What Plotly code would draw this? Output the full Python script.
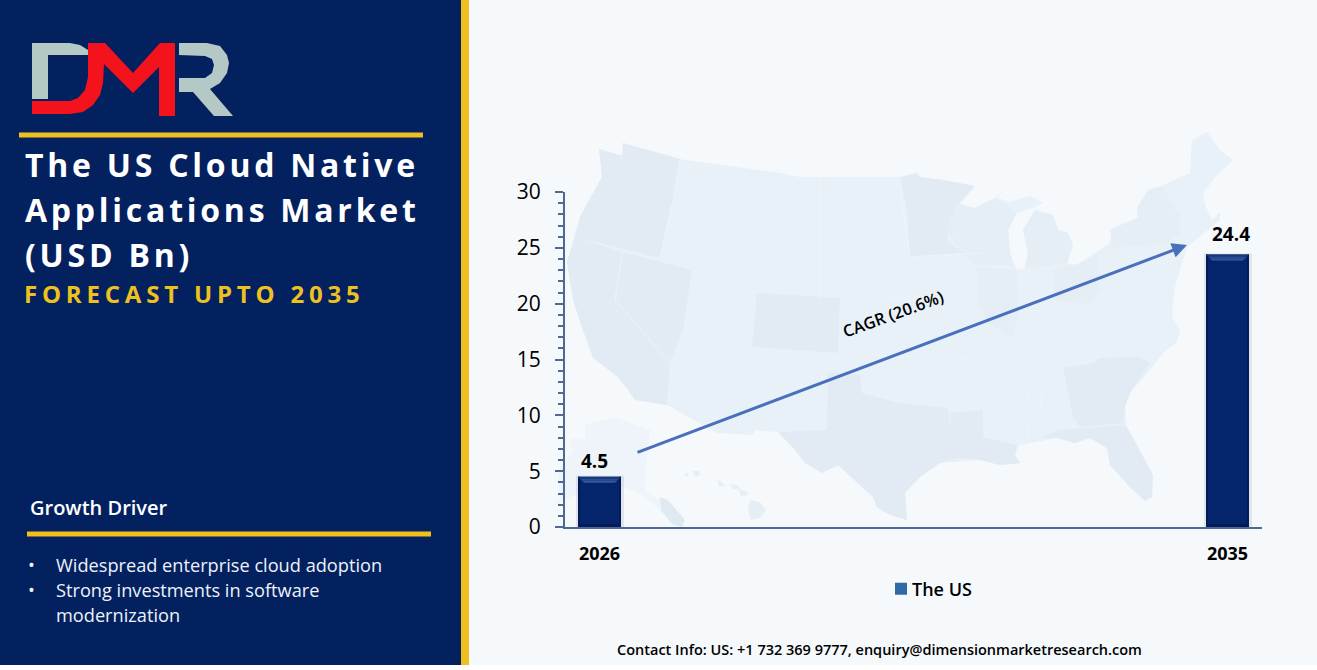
import plotly.graph_objects as go

# Chart data
YEARS = ["2026", "2035"]
MARKET_SIZE = [4.5, 24.4]
SERIES_NAME = "The US"
CAGR_LABEL = "CAGR (20.6%)"
Y_TICKS = [0, 5, 10, 15, 20, 25, 30]

# Side panel copy
TITLE_LINES = ["The US Cloud Native", "Applications Market", "(USD Bn)"]
SUBTITLE = "FORECAST UPTO 2035"
DRIVER_HEADING = "Growth Driver"
DRIVERS = [["Widespread enterprise cloud adoption"],
           ["Strong investments in software", "modernization"]]
CONTACT = "Contact Info: US: +1 732 369 9777, enquiry@dimensionmarketresearch.com"

# Canvas and palette
W, H = 1317, 670
PLOT_L, PLOT_R, PLOT_T, PLOT_B = 565, 1262, 192, 527
NAVY = "#03215f"
BAR_FILL = "#04246c"
GOLD = "#f2c01e"
AXIS = "#4d6a96"
FONT = "Open Sans"
MAP_BASE = "#e9f1f8"
MAP_WEST = "#e2ebf3"
MAP_EAST = "#e5edf5"
MAP_LIGHT = "#eef4fa"

# Traced outlines of the backdrop map, in canvas pixels
LOWER_48 = [(599,149),(610,152),(622,156),(621,167),(623,153),(623,143),(680,159),(780,173),(800,177),(900,177),
            (917,173),(920,177),(943,180),(975,186),(960,203),(975,208),(995,198),(1003,191),(997,198),(1010,202),
            (1030,196),(1043,203),(1033,208),(1017,213),(1008,230),(1010,253),(1017,270),(1025,268),(1028,253),
            (1023,230),(1035,210),(1053,215),(1058,230),(1068,233),(1073,245),(1067,263),(1077,265),(1110,243),
            (1112,228),(1138,218),(1137,208),(1148,190),(1163,185),(1190,173),(1192,140),(1207,132),(1220,150),
            (1233,160),(1217,175),(1203,193),(1205,205),(1212,220),(1220,212),(1220,220),(1202,235),(1187,247),
            (1180,270),(1175,287),(1173,302),(1172,317),(1180,330),(1177,342),(1163,353),(1150,370),(1130,393),
            (1125,407),(1127,427),(1153,475),(1152,497),(1145,501),(1130,487),(1110,465),(1107,448),(1090,438),
            (1075,443),(1057,438),(1020,445),(1015,455),(1020,463),(1000,465),(980,460),(940,463),(920,477),
            (905,493),(907,520),(890,515),(877,507),(873,497),(838,465),(822,473),(805,463),(795,450),(778,432),
            (755,430),(753,435),(717,433),(667,405),(635,400),(628,390),(618,377),(593,358),(582,327),(573,300),
            (567,262),(575,233),(580,217),(593,193),(602,177)]
WEST_REGIONS = [
    [(599,149),(622,156),(623,143),(680,159),(673,200),(610,192),(593,193),(602,177)],
    [(593,193),(610,192),(673,200),(665,235),(660,258),(575,237),(580,217)],
    [(623,252),(692,270),(683,330),(670,363),(615,300)],
    [(575,237),(623,252),(615,300),(670,363),(667,405),(635,400),(628,390),(618,377),(593,358),(582,327),(573,300),(567,262)],
    [(757,293),(840,298),(838,353),(752,347)],
    [(828,372),(860,375),(862,393),(900,403),(948,408),(951,437),(957,458),(940,463),(920,477),(905,493),(907,520),
     (890,515),(877,507),(873,497),(838,465),(822,473),(805,463),(795,450),(778,432),(827,430)],
    [(950,413),(983,410),(983,437),(1017,445),(1015,455),(1020,463),(1000,465),(980,460),(957,458),(950,437)],
    [(1063,368),(1093,363),(1100,358),(1140,357),(1150,363),(1130,393),(1125,407),(1123,423),(1080,427),(1073,417)],
    [(1043,438),(1057,430),(1123,425),(1127,427),(1153,475),(1152,497),(1145,501),(1130,487),(1110,465),(1107,448),
     (1090,438),(1075,443),(1057,438)],
    [(900,177),(917,173),(920,177),(943,180),(975,186),(960,203),(950,218),(947,240),(963,253),(910,257),(907,210)],
]
EAST_REGIONS = [
    [(955,205),(975,208),(995,198),(1017,213),(1008,230),(1010,253),(1013,265),(973,265),(963,253),(947,232)],
    [(1023,230),(1035,210),(1053,215),(1058,230),(1068,233),(1073,245),(1067,263),(1025,268),(1028,253)],
    [(977,267),(1017,270),(1018,320),(1012,337),(990,325),(977,303)],
    [(1110,230),(1138,218),(1137,208),(1148,190),(1163,187),(1180,217),(1180,233),(1167,243),(1113,248)],
    [(1053,270),(1075,265),(1098,255),(1100,290),(1090,305),(1055,300)],
]
BORDER_LINES = [
    [(820,178),(819,300)], [(899,180),(910,257)], [(908,257),(982,253)], [(680,159),(673,200),(665,235),(660,258)],
    [(692,270),(757,293)], [(840,298),(960,296)], [(838,353),(980,360)], [(623,252),(615,300)], [(615,300),(670,363)],
    [(1043,340),(1040,430)], [(1030,345),(1028,440)], [(1000,340),(1000,435)],
]
ALASKA = [(585,425),(615,417),(650,430),(645,480),(645,491),(665,503),(685,522),(676,527),(657,507),(640,493),
          (623,487),(600,482),(565,500),(545,510),(560,500),(558,470),(565,460),(573,452),(569,442),(572,438),(585,440)]
ALASKA_ISLANDS = [(660,497),(668,500),(685,520),(682,527),(672,524),(661,510)]
HAWAII = [[(685,473),(689,473),(688,476),(685,476)], [(693,471),(699,471),(700,475),(695,476)],
          [(717,479),(723,483),(725,487),(719,486)], [(730,484),(738,486),(741,490),(733,489)],
          [(739,490),(747,491),(748,495),(741,496)],
          [(750,500),(760,502),(766,510),(760,518),(751,520),(748,510)]]
LOGO_GREY = [[(32,43),(70,43),(80,45),(88,50),(88,55),(48,55),(48,99),(32,99)],
             [(179,43),(207,43),(220,46),(227,55),(229,63),(227,73),(220,83),(210,89),(233,116),(214,116),(193,92),
              (179,92),(179,78),(205,78),(212,73),(214,65),(212,59),(205,56),(179,55)]]
LOGO_RED = [(32,101),(70,101),(78,98),(85,90),(88,77),(88,43),(105,43),(133,73),(160,43),(175,43),(175,116),
            (159,116),(159,67),(133,93),(104,64),(103,83),(100,95),(93,105),(83,112),(70,114),(32,114)]


def px(x):
    return x / W


def py(y):
    return 1 - y / H


def poly(points):
    return "M" + "L".join(f"{px(x):.5f},{py(y):.5f}" for x, y in points) + "Z"


def fill_shape(points, color, layer="below"):
    return dict(type="path", path=poly(points), xref="paper", yref="paper", fillcolor=color,
                line=dict(width=0), layer=layer)


def box(x0, y0, x1, y1, color):
    return dict(type="rect", xref="paper", yref="paper", x0=px(x0), x1=px(x1), y0=py(y0), y1=py(y1),
                fillcolor=color, line=dict(width=0), layer="below")


def text(label, x, baseline, size, color="black", weight=400, anchor="left"):
    return dict(text=label, xref="paper", yref="paper", x=px(x), y=py(baseline - 0.388 * size),
                xanchor=anchor, yanchor="middle", align=anchor, showarrow=False, borderpad=0,
                font=dict(family=FONT, size=size, color=color, weight=weight))


shapes = [box(469, 0, W, 665, "#f5f9fc"), box(0, 0, 461, 665, NAVY), box(461, 0, 469, 665, GOLD),
          box(19, 132.5, 423, 137.5, GOLD), box(27, 531.5, 431, 536.5, GOLD)]

# Backdrop map
shapes.append(fill_shape(ALASKA, MAP_LIGHT))
shapes.append(fill_shape(ALASKA_ISLANDS, "#dfe9f2"))
shapes += [fill_shape(p, "#e6eef5") for p in HAWAII]
shapes.append(fill_shape(LOWER_48, MAP_BASE))
shapes += [fill_shape(p, MAP_WEST) for p in WEST_REGIONS]
shapes += [fill_shape(p, MAP_EAST) for p in EAST_REGIONS]
for seg in BORDER_LINES:
    shapes.append(dict(type="path", xref="paper", yref="paper", layer="below",
                       path="M" + "L".join(f"{px(x):.5f},{py(y):.5f}" for x, y in seg),
                       line=dict(color="#edf3f9", width=1)))

# Logo
shapes += [fill_shape(p, "#b4c8c6") for p in LOGO_GREY]
shapes.append(fill_shape(LOGO_RED, "#f4121c"))

# Axis scales, so the bar bevels follow the bars
CAT_STEP = 628.0
BAR_WIDTH = 43 / CAT_STEP
X_RANGE = [-34.5 / CAT_STEP, 1 + 34.5 / CAT_STEP]
Y_RANGE = [0, 30]
UNIT_X = 1 / CAT_STEP
UNIT_Y = (Y_RANGE[1] - Y_RANGE[0]) / (PLOT_B - PLOT_T)


def bar_face(i, v, inset_top, depth, color):
    half = BAR_WIDTH / 2
    left, right = i - half, i + half
    top = v - inset_top * UNIT_Y
    low = top - depth * UNIT_Y
    pts = [(left + inset_top * UNIT_X, top), (right - inset_top * UNIT_X, top),
           (right - (inset_top + depth) * UNIT_X, low), (left + (inset_top + depth) * UNIT_X, low)]
    return dict(type="path", xref="x", yref="y", fillcolor=color, line=dict(width=0), layer="above",
                path="M" + "L".join(f"{x:.5f},{y:.4f}" for x, y in pts) + "Z")


for i, v in enumerate(MARKET_SIZE):
    half = BAR_WIDTH / 2
    # soft drop shadow round the bar
    shapes.append(dict(type="rect", xref="x", yref="y", x0=i - half - 2 * UNIT_X, x1=i + half + 3 * UNIT_X,
                       y0=0, y1=v + 0.1, fillcolor="rgba(40,60,90,0.10)", line=dict(width=0), layer="below"))
    # darker sides and foot, then the lit top bevel over them
    for x0, x1 in ((i - half, i - half + 2 * UNIT_X), (i + half - 2 * UNIT_X, i + half)):
        shapes.append(dict(type="rect", xref="x", yref="y", x0=x0, x1=x1, y0=0, y1=v,
                           fillcolor="#031c58", line=dict(width=0), layer="above"))
    shapes.append(dict(type="rect", xref="x", yref="y", x0=i - half, x1=i + half, y0=0, y1=3 * UNIT_Y,
                       fillcolor="#031c58", line=dict(width=0), layer="above"))
    shapes.append(bar_face(i, v, 0, 2, "#1a3878"))
    shapes.append(bar_face(i, v, 2, 2, "#2a4c92"))
    shapes.append(bar_face(i, v, 4, 2, "#33589f"))

annotations = []
for line, base in zip(TITLE_LINES, (177, 222, 267)):
    annotations.append(text(line, 24, base, 32, "white", 700))
annotations.append(text(SUBTITLE, 23, 303, 24, "#eec11f", 700))
annotations.append(text(DRIVER_HEADING, 29, 515, 20, "white", 600))

bullet_base = 572
for item in DRIVERS:
    annotations.append(text("•", 27, bullet_base, 18.2, "#edf2f9"))
    for line in item:
        annotations.append(text(line, 55, bullet_base, 18.2, "#edf2f9"))
        bullet_base += 25

# Value labels sit just above their bars
for i, (v, xshift, yshift) in enumerate(zip(MARKET_SIZE, (-5, 3), (2, 7))):
    annotations.append(dict(text=str(v), x=i, y=v, xref="x", yref="y", xanchor="center", yanchor="bottom",
                            yshift=yshift, xshift=xshift, showarrow=False, borderpad=0,
                            font=dict(family=FONT, size=19, color="black", weight=700)))

annotations.append(dict(text=CAGR_LABEL, xref="paper", yref="paper", x=px(893), y=py(313), xanchor="center",
                        yanchor="middle", textangle=-20, showarrow=False, borderpad=0,
                        font=dict(family=FONT, size=16.5, color="black", weight=600)))
annotations.append(dict(text="", xref="paper", yref="paper", x=px(1187), y=py(245), ax=636 - 1187, ay=453 - 245,
                        axref="pixel", ayref="pixel", showarrow=True, arrowhead=2, arrowsize=1, arrowwidth=3,
                        arrowcolor="#4a70bd", standoff=0))
annotations.append(text(CONTACT, 879.5, 655, 14.5, "black", 600, "center"))

fig = go.Figure()
fig.add_trace(go.Bar(x=[0, 1], y=MARKET_SIZE, width=BAR_WIDTH, marker=dict(color=BAR_FILL, line=dict(width=0)),
                     showlegend=False, hoverinfo="skip"))
# Legend swatch for the single series
fig.add_trace(go.Scatter(x=[None], y=[None], mode="markers", name=SERIES_NAME,
                         marker=dict(symbol="square", size=12, color="#2f69a6")))

fig.update_layout(
    width=W, height=H, margin=dict(l=0, r=0, t=0, b=0, autoexpand=False), autosize=False,
    paper_bgcolor="white", plot_bgcolor="rgba(0,0,0,0)",
    font=dict(family=FONT, color="black"),
    shapes=shapes, annotations=annotations,
    showlegend=True,
    legend=dict(x=px(881), y=py(589), xanchor="left", yanchor="middle", bgcolor="rgba(0,0,0,0)",
                font=dict(family=FONT, size=18, color="black", weight=600), itemwidth=30),
    xaxis=dict(domain=[px(PLOT_L), px(PLOT_R)], range=X_RANGE, tickmode="array", tickvals=[0, 1], ticktext=YEARS,
               automargin=False, showgrid=False, zeroline=False, ticks="", showline=True, linecolor=AXIS, linewidth=2,
               tickfont=dict(family=FONT, size=18, color="black", weight=700), ticklabelstandoff=9),
    yaxis=dict(domain=[py(PLOT_B), py(PLOT_T)], range=Y_RANGE, tickmode="array", tickvals=Y_TICKS,
               automargin=False, showgrid=False, zeroline=False, ticks="outside", ticklen=8, tickwidth=2, tickcolor=AXIS,
               showline=True, linecolor=AXIS, linewidth=2,
               minor=dict(dtick=1, ticks="outside", ticklen=5, tickwidth=2, tickcolor=AXIS, showgrid=False),
               tickfont=dict(family=FONT, size=21, color="black"), ticklabelstandoff=10),
)

# Title letter spacing is not an annotation font option, so it is applied to the rendered text;
# the legend label is also drawn closer to its swatch
TRACKED = {**{line: 3.75 for line in TITLE_LINES}, SUBTITLE: 4.8}
script = """
var tracked = %s;
document.querySelectorAll('.annotation-text').forEach(function (t) {
  var s = tracked[t.textContent];
  if (s) { t.style.letterSpacing = s + 'px'; }
});
document.querySelectorAll('.legendtext').forEach(function (t) {
  t.setAttribute('x', parseFloat(t.getAttribute('x')) - 9);
});
""" % str(TRACKED).replace("'", '"')

fig.write_html("out.html", post_script=script, config=dict(displayModeBar=False))
